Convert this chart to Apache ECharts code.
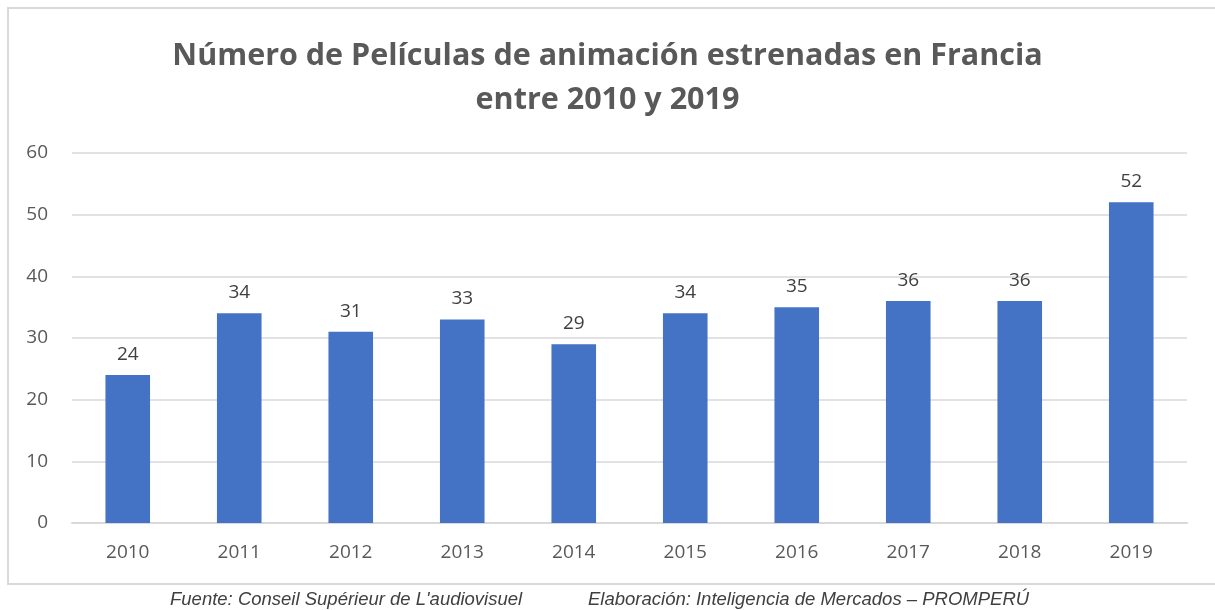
<!DOCTYPE html>
<html lang="es">
<head>
    <meta charset="utf-8" />
    <style>
        body { margin: 0; background: #fff; overflow: hidden; }
        .box { width: 1215px; height: 610px; }
    </style>
</head>
<body>
    <div class="box"></div>
    <script src="https://cdn.jsdelivr.net/npm/echarts@6/dist/echarts.min.js"></script>
    <script>
// datos
var years = ['2010', '2011', '2012', '2013', '2014', '2015', '2016', '2017', '2018', '2019'];
var peliculas = [24, 34, 31, 33, 29, 34, 35, 36, 36, 52];
var titulo = 'Número de Películas de animación estrenadas en Francia\nentre 2010 y 2019';
var fuente = "Fuente: Conseil Supérieur de L'audiovisuel";
var elaboracion = 'Elaboración: Inteligencia de Mercados – PROMPERÚ';

var myChart = echarts.init(document.querySelector('.box'));

var option = {
    animation: false,
    backgroundColor: '#fff',
    title: {
        text: titulo,
        left: 'center',
        top: 29,
        textStyle: {
            fontFamily: 'Open Sans',
            fontWeight: 'bold',
            fontSize: 30.5,
            lineHeight: 44,
            color: '#595959'
        }
    },
    grid: {
        left: 72,
        right: 28,
        top: 153,
        bottom: 87,
        containLabel: false
    },
    xAxis: {
        type: 'category',
        data: years,
        axisLine: { lineStyle: { color: '#d9d9d9', width: 2 } },
        axisTick: { show: false },
        axisLabel: {
            color: '#595959',
            fontFamily: 'Open Sans',
            fontSize: 19,
            margin: 20
        }
    },
    yAxis: {
        type: 'value',
        min: 0,
        max: 60,
        interval: 10,
        axisLine: { show: false },
        axisTick: { show: false },
        axisLabel: {
            color: '#595959',
            fontFamily: 'Open Sans',
            fontSize: 19,
            margin: 24
        },
        splitLine: { lineStyle: { color: '#d9d9d9', width: 1.5 } }
    },
    series: [{
        type: 'bar',
        data: peliculas,
        barWidth: '40%',
        itemStyle: { color: '#4472c4' },
        label: {
            show: true,
            position: 'top',
            distance: 11,
            color: '#404040',
            fontFamily: 'Open Sans',
            fontSize: 19
        }
    }],
    graphic: [
        {
            type: 'rect',
            shape: { x: 8, y: 8, width: 1220, height: 576 },
            style: { fill: 'none', stroke: '#d9d9d9', lineWidth: 2 },
            z: -1
        },
        {
            type: 'text',
            left: 170,
            top: 590,
            style: {
                text: fuente,
                font: 'italic 18.5px "Liberation Sans"',
                fill: '#404040'
            }
        },
        {
            type: 'text',
            left: 588,
            top: 590,
            style: {
                text: elaboracion,
                font: 'italic 18.5px "Liberation Sans"',
                fill: '#404040'
            }
        }
    ]
};

myChart.setOption(option);
    </script>
</body>
</html>
